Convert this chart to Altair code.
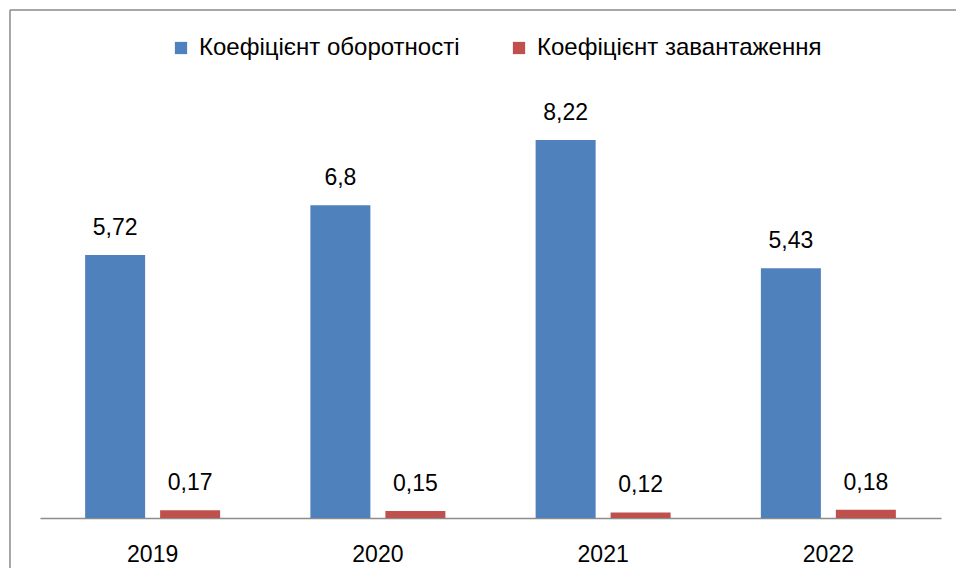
import altair as alt
import pandas as pd

years = ["2019", "2020", "2021", "2022"]
series = ["Коефіцієнт оборотності", "Коефіцієнт завантаження"]
turnover = [5.72, 6.8, 8.22, 5.43]
load = [0.17, 0.15, 0.12, 0.18]
colors = ["#4F81BD", "#C0504D"]

rows = []
for i, y in enumerate(years):
    rows.append({"year": y, "series": series[0], "value": turnover[i], "label": str(turnover[i]).replace(".", ",")})
    rows.append({"year": y, "series": series[1], "value": load[i], "label": str(load[i]).replace(".", ",")})
df = pd.DataFrame(rows)

FONT = "Liberation Sans"
FS = 23

x = alt.X("year:N", sort=years, title=None,
          scale=alt.Scale(paddingInner=0, paddingOuter=0),
          axis=alt.Axis(labelAngle=0, labelFontSize=FS, labelColor="#000000", labelFont=FONT,
                        labelPadding=25, ticks=False, domainColor="#8c8c8c", domainWidth=1.5))
xo = alt.XOffset("series:N", sort=series,
                 scale=alt.Scale(paddingInner=0.2, paddingOuter=0.6017))
y = alt.Y("value:Q", scale=alt.Scale(domain=[0, 10]), axis=None)

bars = alt.Chart(df).mark_bar().encode(
    x=x, xOffset=xo, y=y,
    color=alt.Color("series:N", sort=series, scale=alt.Scale(domain=series, range=colors),
                    legend=alt.Legend(title=None, orient="none", direction="horizontal",
                                      legendX=129, legendY=-22, symbolType="square",
                                      symbolSize=150, symbolStrokeWidth=0, labelFontSize=24,
                                      labelFont=FONT, labelColor="#000000", columnPadding=47,
                                      labelOffset=6, labelLimit=400))
)

texts = alt.Chart(df).mark_text(baseline="bottom", dy=-15, fontSize=FS, font=FONT, color="#000000").encode(
    x=x, xOffset=xo, y=y, text="label:N"
)

frame = pd.DataFrame({"a": [0]})
top_line = alt.Chart(frame).mark_rule(stroke="#8a8a8a", strokeWidth=1.5).encode(
    x=alt.value(-30), x2=alt.value(916), y=alt.value(-48)
)
left_line = alt.Chart(frame).mark_rule(stroke="#8a8a8a", strokeWidth=1.5).encode(
    x=alt.value(-30), y=alt.value(-48), y2=alt.value(510)
)

chart = alt.layer(top_line, left_line, bars, texts).properties(
    width=901, height=460,
    autosize=alt.AutoSizeParams(type="none"),
    padding={"left": 32, "top": 50, "right": 15, "bottom": 50},
).configure(background="white").configure_view(strokeWidth=0)

chart.save("out.html", embed_options={"renderer": "svg", "actions": False})
